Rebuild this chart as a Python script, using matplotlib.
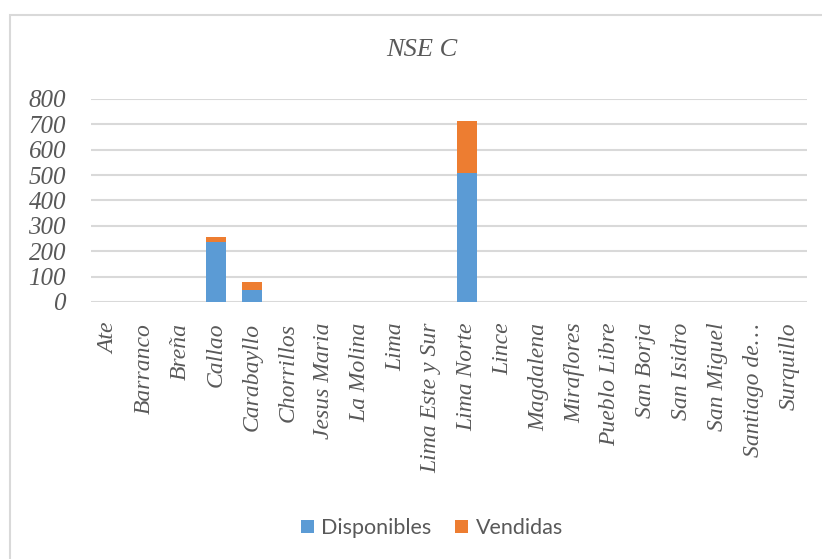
import numpy as np
import matplotlib.pyplot as plt
from matplotlib.patches import Rectangle

plt.rcParams['font.family'] = ['Liberation Serif', 'DejaVu Serif']
plt.rcParams['font.style'] = 'italic'


# Data
distritos = ["Ate", "Barranco", "Breña", "Callao", "Carabayllo", "Chorrillos",
             "Jesus Maria", "La Molina", "Lima", "Lima Este y Sur", "Lima Norte",
             "Lince", "Magdalena", "Miraflores", "Pueblo Libre", "San Borja",
             "San Isidro", "San Miguel", "Santiago de…", "Surquillo"]
disponibles = [0, 0, 0, 235, 47, 0, 0, 0, 0, 0, 508, 0, 0, 0, 0, 0, 0, 0, 0, 0]
vendidas = [0, 0, 0, 23, 31, 0, 0, 0, 0, 0, 204, 0, 0, 0, 0, 0, 0, 0, 0, 0]
y_ticks = [0, 100, 200, 300, 400, 500, 600, 700, 800]

azul = "#5B9BD5"
naranja = "#ED7D31"
gris = "#595959"

W, H = 822, 559
fig = plt.figure(figsize=(W / 100, H / 100), dpi=100)

# outer chart border (Excel chart area)
fig.patches.append(Rectangle((10 / W, -0.1), 1.2, 1.1 - 15 / H, transform=fig.transFigure,
                             fill=False, edgecolor="#D9D9D9", linewidth=1.5))

ax = fig.add_axes([91 / W, 1 - 302 / H, (807 - 91) / W, (302 - 99) / H])

x = np.arange(len(distritos))
ax.bar(x, disponibles, width=0.56, color=azul, label="Disponibles", zorder=3)
ax.bar(x, vendidas, width=0.56, bottom=disponibles, color=naranja,
       label="Vendidas", zorder=3)

ax.tick_params(axis="both", length=0, labelcolor=gris)
ax.tick_params(axis="x", pad=15, labelsize=17)
ax.tick_params(axis="y", pad=18, labelsize=18)

ax.set_xlim(-0.5, len(distritos) - 0.5)
ax.set_ylim(0, 800)
ax.set_yticks(y_ticks)
ax.set_yticklabels([str(v) for v in y_ticks])
ax.set_xticks(x)
ax.set_xticklabels(distritos, rotation=90)

ax.grid(axis="y", color="#D9D9D9", linewidth=1.5, zorder=0)
for s in ax.spines.values():
    s.set_visible(False)

fig.text(422 / W, 1 - 50 / H, "NSE C", ha="center", va="center",
         fontsize=19, color=gris)

fig.legend(loc="center", bbox_to_anchor=(432 / W, 1 - 528 / H), ncol=2,
           frameon=False, prop={"family": "Lato", "style": "normal", "size": 15.5},
           labelcolor=gris, handlelength=0.6, handleheight=0.6,
           handletextpad=0.35, columnspacing=1.1)

fig.savefig("out.png", dpi=100)
